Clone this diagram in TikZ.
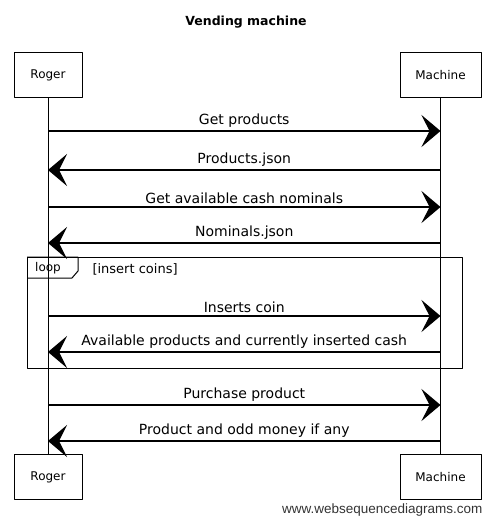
\documentclass[tikz,border=0pt]{standalone}
\usepackage{fontspec}
\setmainfont{DejaVu Sans}
\setsansfont{Liberation Sans}
\usetikzlibrary{positioning,arrows.meta}

\begin{document}
\begin{tikzpicture}[x=1pt, y=-1pt, line join=round,
  actor/.style={draw, line width=1pt, minimum width=68pt, minimum height=45pt, inner sep=0pt, font=\fontsize{12}{14}\selectfont},
  msg/.style={line width=1.2pt, -{Stealth[length=19pt,width=32pt,inset=8pt]}},
  lbl/.style={font=\fontsize{14}{16}\selectfont, inner sep=1pt}]

\useasboundingbox (0,0) rectangle (495,524);

\node[font=\bfseries\fontsize{12.5}{14}\selectfont] (title) at (246,22) {Vending machine};

\node[actor] (R1) at (48,75) {Roger};
\node[actor, minimum width=81pt] (M1) at (440.5,75) {Machine};
\node[actor] (R2) at (48,477) {Roger};
\node[actor, minimum width=81pt] (M2) at (440.5,477) {Machine};

\draw[line width=0.8pt] (R1) -- (R2);
\draw[line width=0.8pt] (M1) -- (M2);

\coordinate (r1) at (48,131); \coordinate (m1) at (440.5,131);
\coordinate (r2) at (48,170); \coordinate (m2) at (440.5,170);
\coordinate (r3) at (48,207); \coordinate (m3) at (440.5,207);
\coordinate (r4) at (48,243); \coordinate (m4) at (440.5,243);
\coordinate (r5) at (48,316); \coordinate (m5) at (440.5,316);
\coordinate (r6) at (48,352); \coordinate (m6) at (440.5,352);
\coordinate (r7) at (48,405); \coordinate (m7) at (440.5,405);
\coordinate (r8) at (48,441); \coordinate (m8) at (440.5,441);

% loop frame
\draw[line width=1pt] (27,257) rectangle (462,368);
\draw[line width=1pt] (27,257) -- (78,257) -- (78,271) -- (72,278) -- (27,278);
\node[font=\fontsize{12}{14}\selectfont] (loopT) at (48,268) {loop};
\node[font=\fontsize{13}{15}\selectfont, anchor=west] (guard) at (89,269) {[insert coins]};

\draw[msg] (r1) -- node[lbl, above=2pt] (t1) {Get products} (m1);
\draw[msg] (m2) -- node[lbl, above=2pt] (t2) {Products.json} (r2);
\draw[msg] (r3) -- node[lbl, above=2pt] (t3) {Get available cash nominals} (m3);
\draw[msg] (m4) -- node[lbl, above=2pt] (t4) {Nominals.json} (r4);
\draw[msg] (r5) -- node[lbl, above=2pt] (t5) {Inserts coin} (m5);
\draw[msg] (m6) -- node[lbl, above=2pt] (t6) {Available products and currently inserted cash} (r6);
\draw[msg] (r7) -- node[lbl, above=2pt] (t7) {Purchase product} (m7);
\draw[msg] (m8) -- node[lbl, above=2pt] (t8) {Product and odd money if any} (r8);

\node[anchor=east, text=black!80, font=\sffamily\fontsize{13.5}{15}\selectfont] (wsd) at (486,510) {www.websequencediagrams.com};
\end{tikzpicture}
\end{document}
